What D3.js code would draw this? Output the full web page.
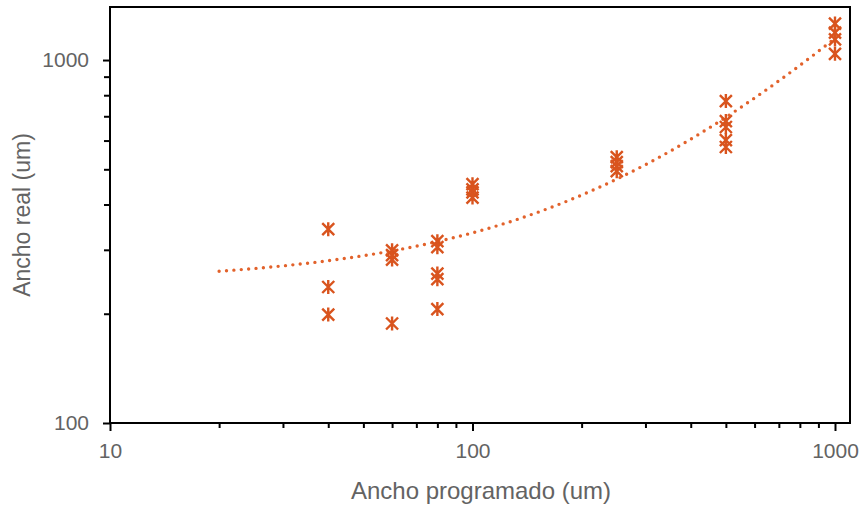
<!DOCTYPE html>
<html>
<head>
<meta charset="utf-8">
<script src="https://cdn.jsdelivr.net/npm/d3@7/dist/d3.min.js"></script>
<style>
  html, body { margin: 0; padding: 0; background: #ffffff; }
  svg { display: block; }
</style>
</head>
<body>
<script>
// ---- data ----
const xProgramado = [40, 40, 40,
                     60, 60, 60, 60,
                     80, 80, 80, 80, 80,
                     100, 100, 100, 100,
                     250, 250, 250, 250,
                     500, 500, 500, 500, 500,
                     1000, 1000, 1000, 1000];
const yReal = [342, 237, 199,
               299, 290, 282, 188,
               317, 305, 258, 249, 206,
               455, 440, 432, 418,
               540, 523, 510, 494,
               771, 679, 654, 602, 576,
               1260, 1190, 1140, 1040];
const xTickLabels = [10, 100, 1000];
const yTickLabels = [100, 1000];
const xMinorTicks = [20, 30, 40, 50, 60, 70, 80, 90, 200, 300, 400, 500, 600, 700, 800, 900];
const yMinorTicks = [200, 300, 400, 500, 600, 700, 800, 900];
const trendRange = [20, 1000];
const xTitle = "Ancho programado (um)";
const yTitle = "Ancho real (um)";

// ---- layout ----
const W = 862, H = 508;
const plot = { left: 110, right: 850, top: 7, bottom: 423 };
const markerColor = "#D9541E";
const lineColor = "#E2622B";
const textColor = "#636363";
const font = "'Liberation Sans', Arial, sans-serif";

const svg = d3.select("body").append("svg").attr("width", W).attr("height", H);

const x = d3.scaleLog().domain([10, 1100]).range([plot.left, plot.right]);
const y = d3.scaleLog().domain([100, 1400]).range([plot.bottom, plot.top]);

// minor ticks
svg.append("g").attr("transform", `translate(0,${plot.bottom})`)
  .call(d3.axisBottom(x).tickValues(xMinorTicks).tickSize(5).tickFormat(""))
  .call(g => g.select(".domain").remove())
  .call(g => g.selectAll("line").attr("stroke", "#000").attr("stroke-width", 2));
svg.append("g").attr("transform", `translate(${plot.left},0)`)
  .call(d3.axisLeft(y).tickValues(yMinorTicks).tickSize(6).tickFormat(""))
  .call(g => g.select(".domain").remove())
  .call(g => g.selectAll("line").attr("stroke", "#000").attr("stroke-width", 2));

// major ticks + labels
svg.append("g").attr("transform", `translate(0,${plot.bottom})`)
  .call(d3.axisBottom(x).tickValues(xTickLabels).tickSize(8).tickPadding(12).tickFormat(d3.format("d")))
  .call(g => g.select(".domain").remove())
  .call(g => g.selectAll("line").attr("stroke", "#000").attr("stroke-width", 2))
  .call(g => g.selectAll("text").attr("fill", textColor).style("font-family", font).style("font-size", "21px"));
svg.append("g").attr("transform", `translate(${plot.left},0)`)
  .call(d3.axisLeft(y).tickValues(yTickLabels).tickSize(7).tickPadding(14).tickFormat(d3.format("d")))
  .call(g => g.select(".domain").remove())
  .call(g => g.selectAll("line").attr("stroke", "#000").attr("stroke-width", 2))
  .call(g => g.selectAll("text").attr("fill", textColor).style("font-family", font).style("font-size", "21px"));

// frame
svg.append("rect")
  .attr("x", plot.left).attr("y", plot.top)
  .attr("width", plot.right - plot.left).attr("height", plot.bottom - plot.top)
  .attr("fill", "none").attr("stroke", "#000").attr("stroke-width", 2);

// linear trendline (least squares on the data)
const n = xProgramado.length;
const mx = d3.mean(xProgramado), my = d3.mean(yReal);
let sxy = 0, sxx = 0;
for (let i = 0; i < n; i++) {
  sxy += (xProgramado[i] - mx) * (yReal[i] - my);
  sxx += (xProgramado[i] - mx) ** 2;
}
const slope = sxy / sxx, intercept = my - slope * mx;
const trendPts = d3.range(0, 201).map(i => {
  const xv = trendRange[0] * Math.pow(trendRange[1] / trendRange[0], i / 200);
  return [xv, slope * xv + intercept];
});
svg.append("path")
  .datum(trendPts)
  .attr("d", d3.line().x(d => x(d[0])).y(d => y(d[1])))
  .attr("fill", "none")
  .attr("stroke", lineColor)
  .attr("stroke-width", 3.4)
  .attr("stroke-linecap", "round")
  .attr("stroke-dasharray", "0 7.4");

// star markers
const starPath = "M-6,-6L6,6M-6,6L6,-6M0,-7L0,7";
svg.append("g").selectAll("path")
  .data(d3.zip(xProgramado, yReal))
  .join("path")
  .attr("transform", d => `translate(${x(d[0])},${y(d[1])})`)
  .attr("d", starPath)
  .attr("fill", "none")
  .attr("stroke", markerColor)
  .attr("stroke-width", 2.4);

// axis titles
svg.append("text")
  .attr("x", (plot.left + plot.right) / 2 + 1).attr("y", 499)
  .attr("text-anchor", "middle")
  .attr("fill", textColor).style("font-family", font).style("font-size", "24px")
  .text(xTitle);
svg.append("text")
  .attr("transform", "translate(30,215) rotate(-90)")
  .attr("text-anchor", "middle")
  .attr("fill", textColor).style("font-family", font).style("font-size", "23px")
  .text(yTitle);
</script>
</body>
</html>
